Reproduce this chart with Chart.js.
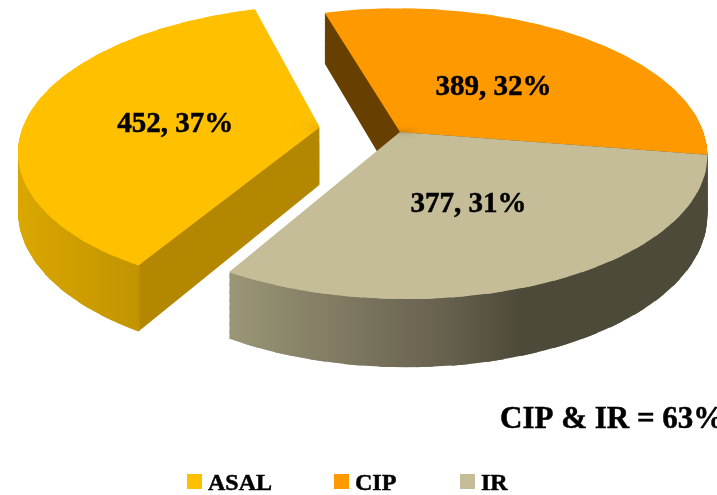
<!DOCTYPE html>
<html>
<head>
<meta charset="utf-8">
<style>
  html, body { margin: 0; padding: 0; background: #fff; overflow: hidden; }
  canvas { display: block; }
</style>
</head>
<body>
<canvas id="pie3d" width="717" height="495"></canvas>
<script src="https://cdn.jsdelivr.net/npm/chart.js@4/dist/chart.umd.js"></script>
<script>
const categories = ["ASAL", "CIP", "IR"];
const counts = [452, 389, 377];
const sliceColors = ["#FFC000", "#FF9900", "#C4BD97"];
const noteText = "CIP & IR = 63%";

// wall shading runs left to right across the screen: [x, colour]
const wallShades = [
    [[12, "#DBA800"], [138, "#C29400"], [141, "#B38700"], [320, "#B38700"]],
    [[320, "#674000"], [400, "#674000"]],
    [[229, "#9A9676"], [450, "#655F4D"], [520, "#4E4A39"], [710, "#4E4A39"]],
];
const explode = [0.27, 0, 0];
const drawOrder = [1, 2, 0];
const legendBoxX = [187, 334, 460];
const labelRadius = [0.495, 0.5, 0.485];

const fontFamily = "'Liberation Serif', serif";
const cam = { x: 400, y: 132, a: 301.4, b: -1.9, d: 2.45, e: 142, h: 0.1494, q: 0.009, depth: 58 };
const sectorStep = Math.PI / 30;

// perspective camera, u/v are in pie radii, v grows towards the viewer
const project = (u, v, z) => {
    const w = 1 - cam.h * v - cam.q * u;
    return {
        x: cam.x + (cam.a * u + cam.b * v) / w,
        y: cam.y + (cam.d * u + cam.e * v + z * cam.depth) / w,
    };
};

// affine for one thin wedge of an arc, chart space to screen
const wedgeMatrix = (el, a0, a1, shift, z) => {
    const r = el.outerRadius;
    const c = project(shift.u, shift.v, z);
    const s = project(Math.cos(a0) + shift.u, Math.sin(a0) + shift.v, z);
    const e = project(Math.cos(a1) + shift.u, Math.sin(a1) + shift.v, z);
    const sx = Math.cos(a0) * r, sy = Math.sin(a0) * r;
    const ex = Math.cos(a1) * r, ey = Math.sin(a1) * r;
    const det = sx * ey - ex * sy;
    const ma = ((s.x - c.x) * ey - (e.x - c.x) * sy) / det;
    const mc = ((e.x - c.x) * sx - (s.x - c.x) * ex) / det;
    const mb = ((s.y - c.y) * ey - (e.y - c.y) * sy) / det;
    const md = ((e.y - c.y) * sx - (s.y - c.y) * ex) / det;
    return [ma, mb, mc, md, c.x - ma * el.x - mc * el.y, c.y - mb * el.x - md * el.y];
};

const sliceShift = (el, i) => {
    const mid = (el.startAngle + el.endAngle) / 2;
    return { u: Math.cos(mid) * explode[i], v: Math.sin(mid) * explode[i] };
};

// the arc element draws itself, one wedge at a time, so the rim follows the perspective
const paintSlice = (ctx, el, fill, shift, z) => {
    const { startAngle, endAngle, circumference, options } = el;
    const n = Math.ceil(circumference / sectorStep);
    const step = circumference / n;
    el.options = Object.assign(Object.create(options), { backgroundColor: fill });
    for (let k = 0; k < n; k++) {
        const a0 = startAngle + k * step;
        const a1 = a0 + step;
        el.startAngle = a0;
        // overlap the next wedge so no seams show along the joins
        el.endAngle = Math.min(a1 + step * 0.5, endAngle);
        el.circumference = el.endAngle - a0;
        ctx.save();
        ctx.transform(...wedgeMatrix(el, a0, a1, shift, z));
        el.draw(ctx);
        ctx.restore();
    }
    el.startAngle = startAngle;
    el.endAngle = endAngle;
    el.circumference = circumference;
    el.options = options;
};

const pie3dPlugin = {
    id: "pie3d",
    beforeDatasetsDraw(chart) {
        const ctx = chart.ctx;
        const arcs = chart.getDatasetMeta(0).data;
        const layer = document.createElement("canvas");
        layer.width = chart.width;
        layer.height = chart.height;
        const lc = layer.getContext("2d");

        drawOrder.forEach((i) => {
            const el = arcs[i];
            const shift = sliceShift(el, i);

            // stack copies downwards for the side walls, then shade them in screen space
            lc.globalCompositeOperation = "source-over";
            lc.clearRect(0, 0, layer.width, layer.height);
            for (let d = cam.depth; d > 0; d--) {
                paintSlice(lc, el, "#000", shift, d / cam.depth);
            }
            const stops = wallShades[i];
            const first = stops[0][0], last = stops[stops.length - 1][0];
            const grad = lc.createLinearGradient(first, 0, last, 0);
            stops.forEach(([x, col]) => grad.addColorStop((x - first) / (last - first), col));
            lc.globalCompositeOperation = "source-in";
            lc.fillStyle = grad;
            lc.fillRect(0, 0, layer.width, layer.height);
            ctx.drawImage(layer, 0, 0);

            paintSlice(ctx, el, sliceColors[i], shift, 0);
        });
        return false;
    },
    afterDraw(chart) {
        const ctx = chart.ctx;
        const arcs = chart.getDatasetMeta(0).data;
        const total = counts.reduce((a, b) => a + b, 0);
        ctx.save();
        ctx.fillStyle = "#000";
        ctx.strokeStyle = "#000";
        ctx.lineWidth = 0.5;
        ctx.textAlign = "center";
        ctx.textBaseline = "alphabetic";
        ctx.font = "bold 29px " + fontFamily;
        arcs.forEach((el, i) => {
            const shift = sliceShift(el, i);
            const mid = (el.startAngle + el.endAngle) / 2;
            const p = project(
                Math.cos(mid) * labelRadius[i] + shift.u,
                Math.sin(mid) * labelRadius[i] + shift.v,
                0
            );
            const pct = Math.round((counts[i] / total) * 100);
            const label = `${counts[i]}, ${pct}%`;
            ctx.fillText(label, p.x, p.y + 13);
            ctx.strokeText(label, p.x, p.y + 13);
        });

        ctx.textAlign = "left";
        ctx.font = "bold 31px " + fontFamily;
        ctx.fillText(noteText, 500, 428);
        ctx.strokeText(noteText, 500, 428);

        // legend sits tight against its swatches, tighter than the built-in one allows
        ctx.font = "bold 24px " + fontFamily;
        categories.forEach((name, i) => {
            ctx.fillStyle = sliceColors[i];
            ctx.fillRect(legendBoxX[i], 474, 15, 15);
            ctx.fillStyle = "#000";
            ctx.fillText(name, legendBoxX[i] + 21, 490);
            ctx.strokeText(name, legendBoxX[i] + 21, 490);
        });
        ctx.restore();
    },
};

new Chart(document.getElementById("pie3d"), {
    type: "pie",
    data: {
        labels: categories,
        datasets: [{
            data: counts,
            backgroundColor: sliceColors,
            borderWidth: 0,
        }],
    },
    options: {
        responsive: false,
        animation: false,
        rotation: 209.4,
        layout: { padding: 0 },
        plugins: {
            tooltip: { enabled: false },
            legend: { display: false },
        },
    },
    plugins: [pie3dPlugin],
});
</script>
</body>
</html>
